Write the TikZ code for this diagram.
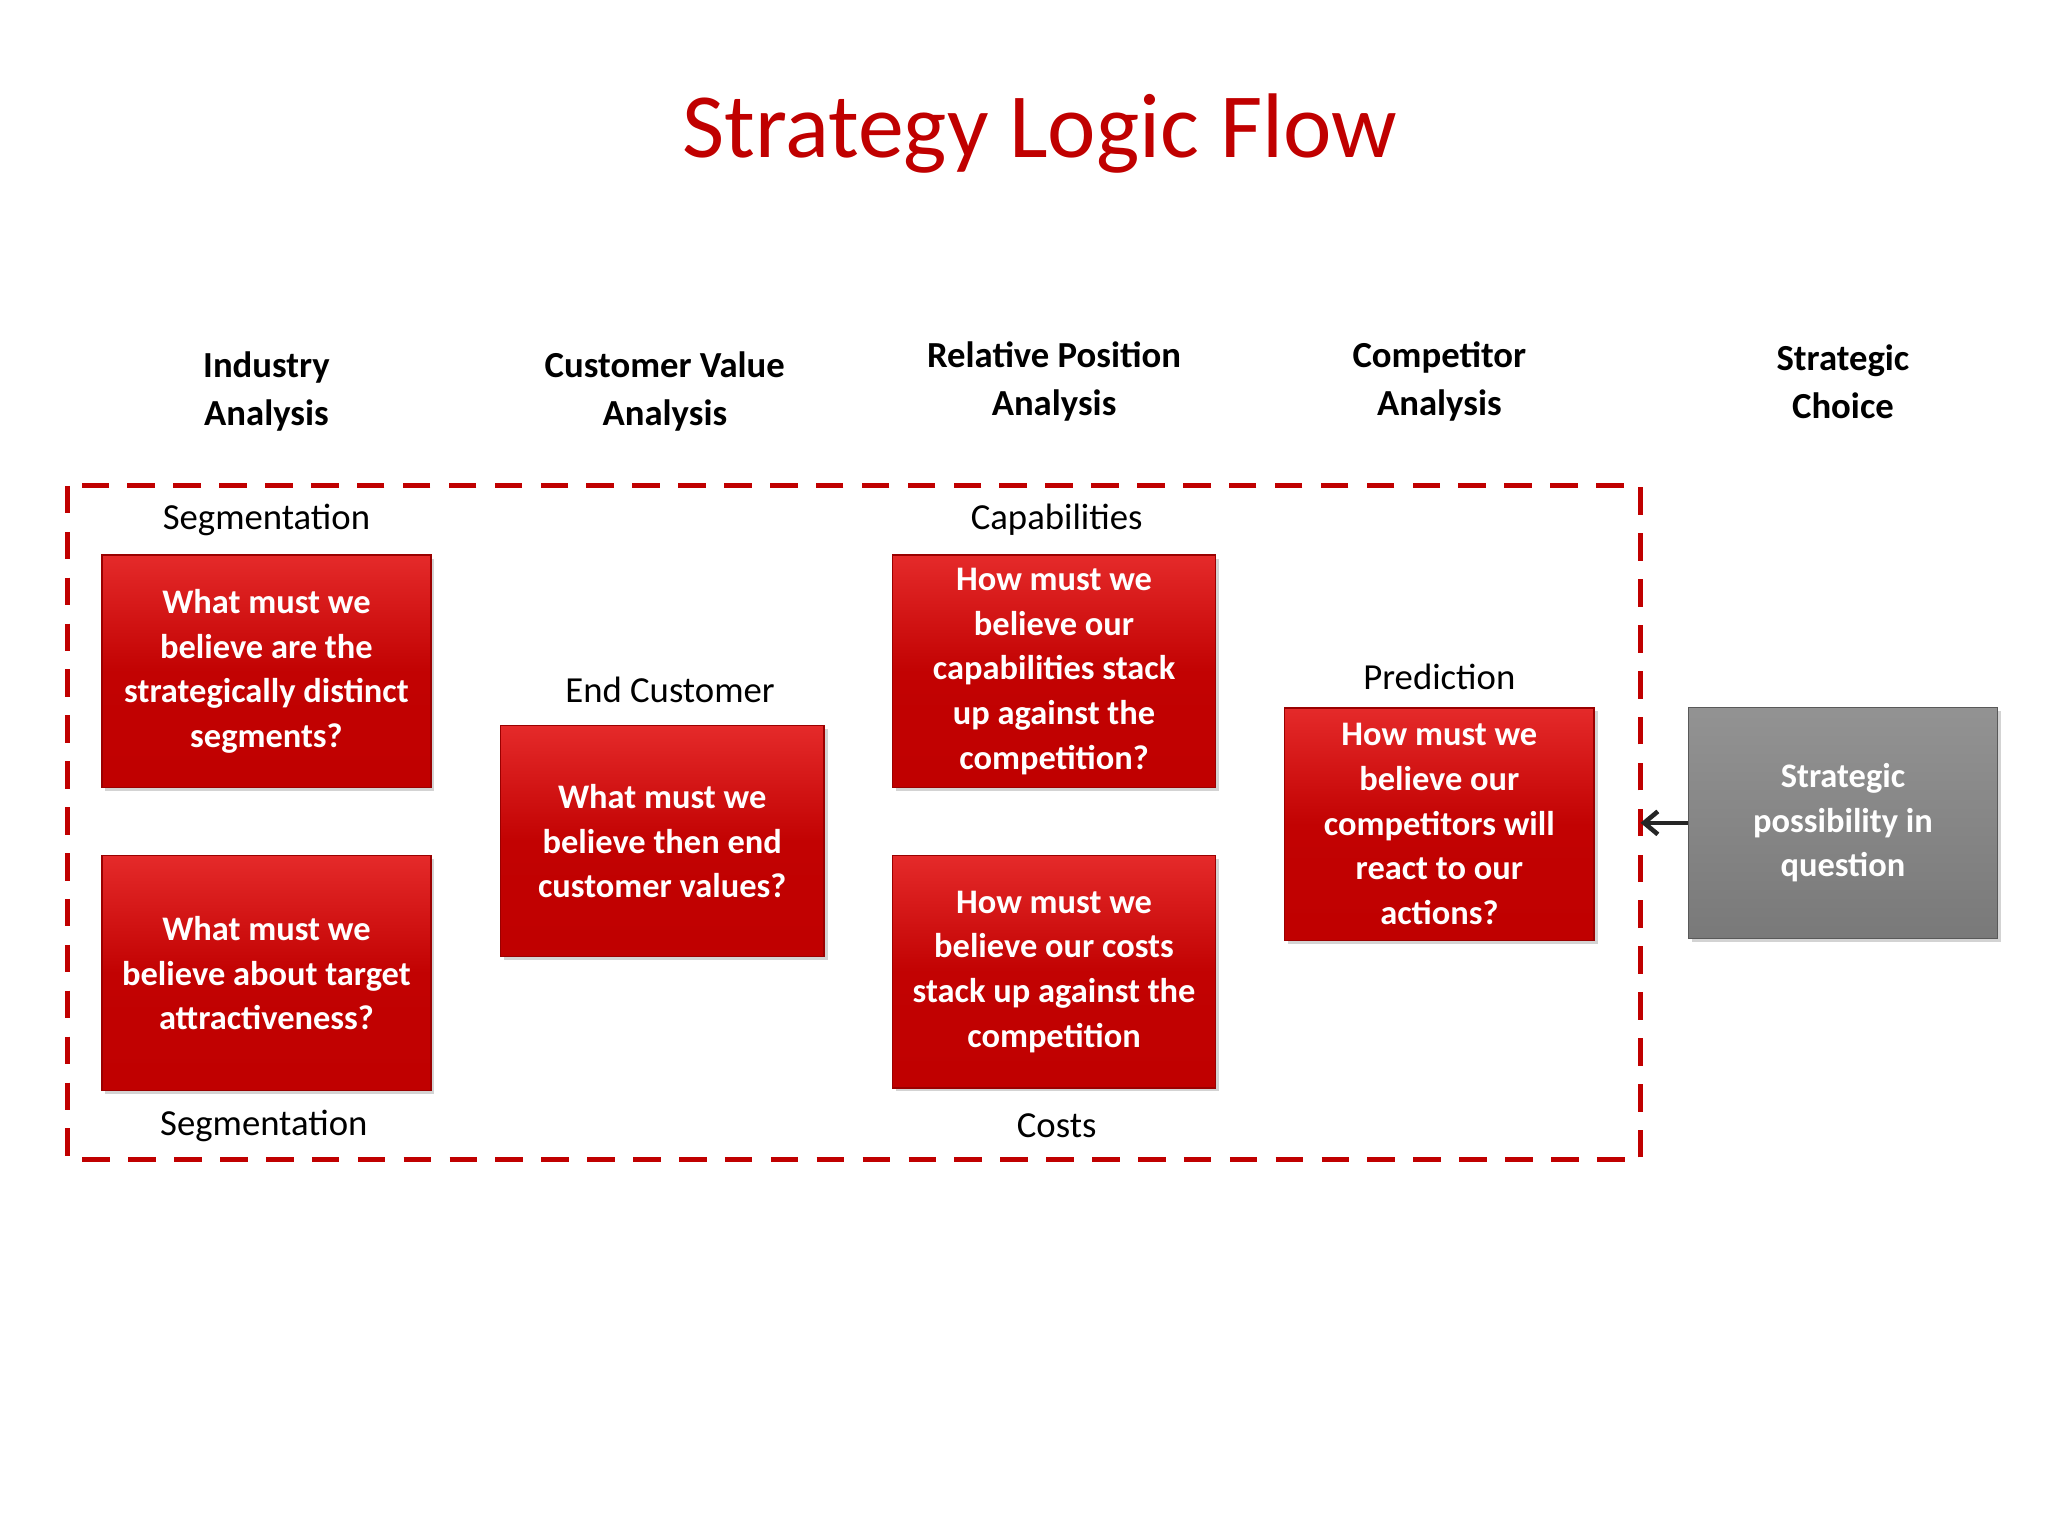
\documentclass[tikz,border=0pt]{standalone}
\usepackage{fontspec}
\setmainfont{Carlito}
\usetikzlibrary{shadows,arrows.meta}
\definecolor{rtop}{HTML}{E52A2A}
\definecolor{rbot}{HTML}{C00000}
\definecolor{ttl}{HTML}{C00000}
\tikzset{
 rbox/.style={draw=rbot!80!black,line width=0.6pt,top color=rtop,bottom color=rbot,middle color=rbot!95!rtop,
   drop shadow={shadow xshift=1.5pt,shadow yshift=-1.5pt,opacity=0.35},
   text=white,font=\fontsize{15}{19.5}\selectfont\bfseries,align=center,inner sep=0pt},
 gbox/.style={draw=gray!70!black,line width=0.6pt,top color=gray!85,bottom color=gray!95!black,
   drop shadow={shadow xshift=1.5pt,shadow yshift=-1.5pt,opacity=0.35},
   text=white,font=\fontsize{15}{19.5}\selectfont\bfseries,align=center,inner sep=0pt},
 hdr/.style={font=\fontsize{16}{21}\selectfont\bfseries,align=center},
 lbl/.style={font=\fontsize{16}{20}\selectfont}
}
\begin{document}
\begin{tikzpicture}[x=0.02cm,y=-0.02cm]
\useasboundingbox (0,0) rectangle (1568,1176);
\node[text=ttl,font=\fontsize{40}{46}\selectfont] (title) at (796,102) {Strategy Logic Flow};
\node[hdr] (h1) at (204,300) {Industry\\Analysis};
\node[hdr] (h2) at (509,300) {Customer Value\\Analysis};
\node[hdr] (h3) at (807,292) {Relative Position\\Analysis};
\node[hdr] (h4) at (1102,292) {Competitor\\Analysis};
\node[hdr] (h5) at (1411,292) {Strategic\\Choice};
\draw[draw=rbot,line width=2.2pt,dash pattern=on 12pt off 8pt] (52,372) rectangle (1256,888);
\coordinate (dr) at (1256,630);
\node[rbox,minimum width=5.04cm,minimum height=3.56cm] (b1) at (204,514) {What must we\\believe are the\\strategically distinct\\segments?};
\node[rbox,minimum width=5.04cm,minimum height=3.6cm] (b2) at (204,745) {What must we\\believe about target\\attractiveness?};
\node[rbox,minimum width=4.96cm,minimum height=3.54cm] (b3) at (507,644) {What must we\\believe then end\\customer values?};
\node[rbox,minimum width=4.94cm,minimum height=3.56cm] (b4) at (807,514) {How must we\\believe our\\capabilities stack\\up against the\\competition?};
\node[rbox,minimum width=4.94cm,minimum height=3.56cm] (b5) at (807,744) {How must we\\believe our costs\\stack up against the\\competition};
\node[rbox,minimum width=4.74cm,minimum height=3.56cm] (b6) at (1102,631) {How must we\\believe our\\competitors will\\react to our\\actions?};
\node[gbox,minimum width=4.74cm,minimum height=3.54cm] (g) at (1411,630) {Strategic\\possibility in\\question};
\draw[-{Straight Barb[length=6pt,width=10pt]},line width=2pt,draw=gray!30!black] (g.west) -- (dr);
\node[lbl] (l1) at (204,398) {Segmentation};
\node[lbl] (l2) at (513,528) {End Customer};
\node[lbl] (l3) at (809,398) {Capabilities};
\node[lbl] (l4) at (1102,518) {Prediction};
\node[lbl] (l5) at (202,862) {Segmentation};
\node[lbl] (l6) at (809,862) {Costs};
\end{tikzpicture}
\end{document}
